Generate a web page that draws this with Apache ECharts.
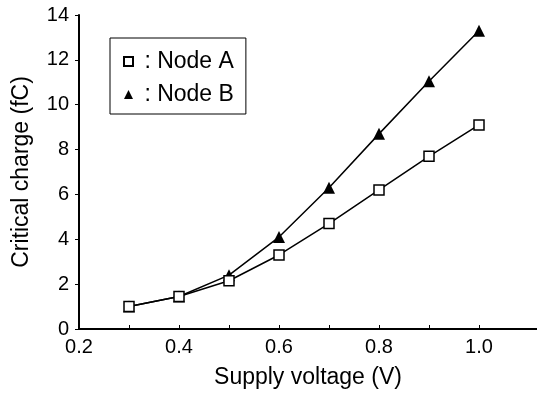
<!DOCTYPE html>
<html>
<head>
<meta charset="utf-8">
<script src="https://cdn.jsdelivr.net/npm/echarts@6/dist/echarts.min.js"></script>
<style>
  html, body { margin: 0; padding: 0; background: #fff; }
  #chart { width: 537px; height: 394px; }
</style>
</head>
<body>
<div id="chart"></div>
<script>
const voltages = [0.3, 0.4, 0.5, 0.6, 0.7, 0.8, 0.9, 1.0];
const nodeA = [1.0, 1.45, 2.15, 3.3, 4.7, 6.2, 7.7, 9.1];
const nodeB = [1.0, 1.45, 2.4, 4.1, 6.3, 8.7, 11.05, 13.3];
const xTicks = [0.2, 0.3, 0.4, 0.5, 0.6, 0.7, 0.8, 0.9, 1.0];
const xLabels = [0.2, 0.4, 0.6, 0.8, 1.0];

const font = "Liberation Sans, Arial, sans-serif";
const pairs = (ys) => voltages.map((x, i) => [x, ys[i]]);

const chart = echarts.init(document.getElementById("chart"), null, { renderer: "canvas" });

chart.setOption({
  animation: false,
  grid: { left: 79, top: 15, right: 0, bottom: 64 },
  legend: {
    orient: "vertical",
    left: 110,
    top: 38,
    padding: [12, 12, 8, 13],
    itemGap: 10,
    itemWidth: 9,
    itemHeight: 9,
    borderColor: "#000",
    borderWidth: 1,
    borderRadius: 0,
    formatter: (name) => " : " + name,
    textStyle: { fontFamily: font, fontSize: 23, color: "#000" },
    data: [
      { name: "Node A", icon: "rect" },
      { name: "Node B", icon: "path://M5,0L10,10L0,10Z" },
    ],
  },
  xAxis: [
    {
      type: "value",
      min: 0.2,
      max: 1.116,
      name: "Supply voltage (V)",
      nameLocation: "middle",
      nameGap: 37,
      nameTextStyle: { fontFamily: font, fontSize: 23, color: "#000" },
      axisLine: { onZero: false, lineStyle: { color: "#000", width: 2 } },
      axisTick: { inside: true, length: 4, customValues: xTicks, lineStyle: { color: "#000", width: 1 } },
      axisLabel: {
        customValues: xLabels,
        formatter: (v) => v.toFixed(1),
        fontFamily: font,
        fontSize: 20,
        color: "#000",
        margin: 8,
      },
      splitLine: { show: false },
    },
    {
      type: "value",
      position: "top",
      min: 0.2,
      max: 1.116,
      axisLine: { show: true, lineStyle: { color: "#000", width: 2 } },
      axisTick: { show: false },
      axisLabel: { show: false },
      splitLine: { show: false },
    },
  ],
  yAxis: {
    type: "value",
    min: 0,
    max: 14,
    interval: 2,
    name: "Critical charge (fC)",
    nameLocation: "middle",
    nameGap: 46,
    nameTextStyle: { fontFamily: font, fontSize: 23, color: "#000" },
    axisLine: { show: true, lineStyle: { color: "#000", width: 2 } },
    axisTick: { show: true, length: 4, lineStyle: { color: "#000", width: 1 } },
    axisLabel: { fontFamily: font, fontSize: 20, color: "#000", margin: 10 },
    splitLine: { show: false },
  },
  series: [
    {
      name: "Node B",
      type: "line",
      data: pairs(nodeB),
      symbol: "triangle",
      symbolSize: 12,
      lineStyle: { color: "#000", width: 1.5 },
      itemStyle: { color: "#000", borderColor: "#000", borderWidth: 0 },
    },
    {
      name: "Node A",
      type: "line",
      data: pairs(nodeA),
      symbol: "rect",
      symbolSize: 10,
      lineStyle: { color: "#000", width: 1.5 },
      itemStyle: { color: "#fff", borderColor: "#000", borderWidth: 1.5 },
      z: 3,
    },
  ],
});
</script>
</body>
</html>
